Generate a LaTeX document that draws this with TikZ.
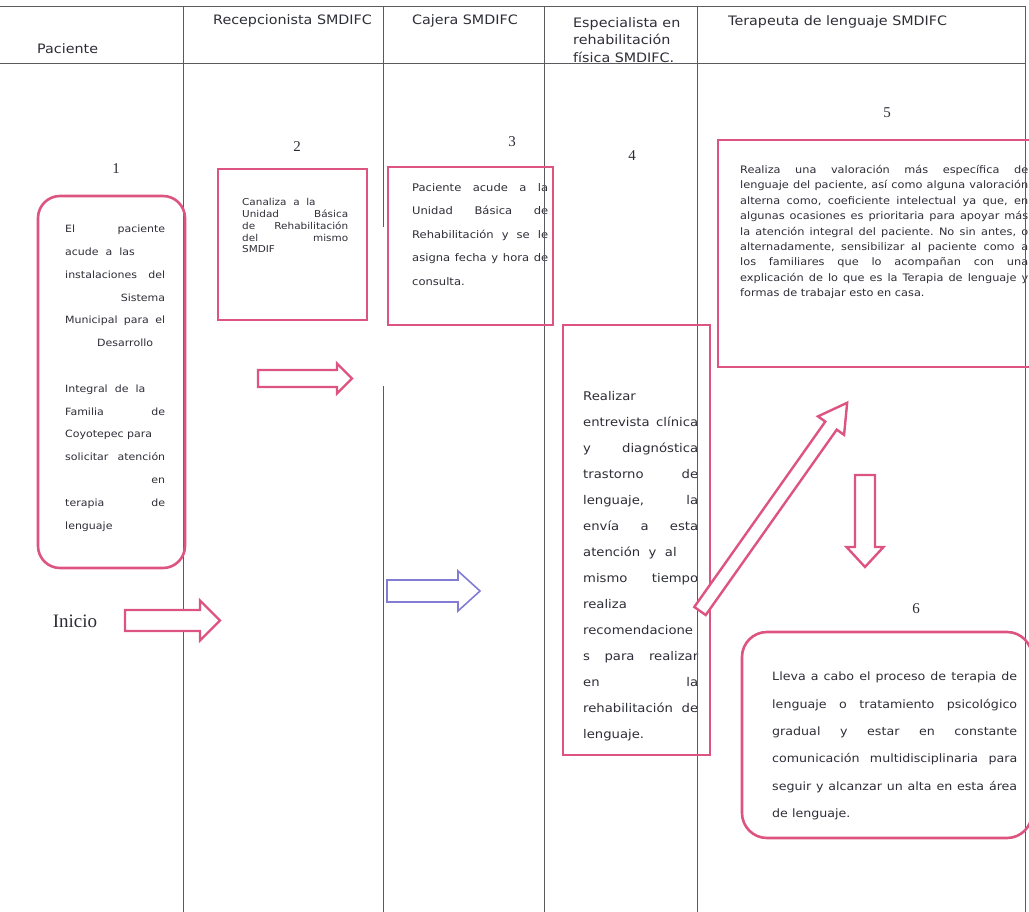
\documentclass[tikz,border=0pt]{standalone}
\usepackage{fontspec}
\setmainfont{Liberation Serif}
\newfontfamily\bodyf[FakeStretch=1.1]{DejaVu Sans}
\definecolor{pinkln}{RGB}{221,84,128}
\definecolor{laneln}{RGB}{90,90,95}
\definecolor{txt}{RGB}{45,45,55}
\definecolor{bluearr}{RGB}{130,125,210}
\frenchspacing
\newcommand\JL[1]{\hbox to\hsize{#1}}
\newcommand\LL[1]{\hbox to\hsize{#1\hfil}}
\newcommand\blockarrow[7]{%
  \begin{scope}[shift={#2},rotate=#3]
    \draw[#1] (0,-#5) -- ({#4-#7},-#5) -- ({#4-#7},-#6) -- (#4,0) -- ({#4-#7},#6) -- ({#4-#7},#5) -- (0,#5) -- cycle;
  \end{scope}}
\tikzset{
  lane/.style={draw=laneln,line width=0.9pt},
  box/.style={draw=pinkln,line width=2.6pt},
  rbox/.style={box,rounded corners=22pt},
  num/.style={font=\fontsize{15}{15}\selectfont,text=txt,inner sep=0},
  hdr/.style={font=\bodyf\fontsize{13}{17.5}\selectfont,text=txt,anchor=base west,inner sep=0},
  btext/.style={anchor=north west,inner sep=0,text=txt},
  arrowline/.style={draw=pinkln,line width=2.4pt,fill=white,line join=miter},
}
\begin{document}
\begin{tikzpicture}[x=1pt,y=-1pt]
\useasboundingbox (0,0) rectangle (1029,912);

% header texts
\node[hdr] (hPac) at (37,54) {Paciente};
\node[hdr] (hRec) at (213,25) {Recepcionista SMDIFC};
\node[hdr] (hCaj) at (412,25) {Cajera SMDIFC};
\node[hdr,anchor=north west] (hEsp) at (573,17) {\vbox{\hsize=120pt \LL{Especialista en}\LL{rehabilitación}\LL{física SMDIFC.}}};
\node[hdr] (hTer) at (728,26) {Terapeuta de lenguaje SMDIFC};

% step numbers
\node[num] (n1) at (116,169) {1};
\node[num] (n2) at (297,147) {2};
\node[num] (n3) at (512,142) {3};
\node[num] (n4) at (632,156) {4};
\node[num] (n5) at (887,113) {5};
\node[num] (n6) at (916,609) {6};
\node[text=txt,font=\fontsize{19}{19}\selectfont,inner sep=0] (inicio) at (75,621) {Inicio};

% box texts
\node[btext] (t1) at (65,225) {\bodyf\fontsize{10}{22.8}\selectfont\vbox{\hsize=100pt
  \JL{El\hfill paciente}
  \LL{acude\ \ a\ \ las}
  \JL{instalaciones del}
  \JL{\hfill Sistema}
  \JL{Municipal para el}
  \LL{\hspace{32pt}Desarrollo}
  \LL{}
  \LL{Integral\ \ de\ \ la}
  \JL{Familia\hfill de}
  \LL{Coyotepec para}
  \JL{solicitar atención}
  \JL{\hfill en}
  \JL{terapia\hfill de}
  \LL{lenguaje}}};

\node[btext] (t2) at (242,198.5) {\bodyf\fontsize{9.5}{11.7}\selectfont\vbox{\hsize=106pt
  \LL{Canaliza\ \ a\ \ la}
  \JL{Unidad\hfill Básica}
  \JL{de\hfill Rehabilitación}
  \JL{del\hfill mismo}
  \LL{SMDIF}}};

\node[btext] (t3) at (412,183) {\bodyf\fontsize{10.5}{23.5}\selectfont\vbox{\hsize=136pt
  \JL{Paciente acude a la}
  \JL{Unidad Básica de}
  \JL{Rehabilitación y se le}
  \JL{asigna fecha y hora de}
  \LL{consulta.}}};

\node[btext] (t4) at (583,391) {\bodyf\fontsize{12}{26}\selectfont\vbox{\hsize=115pt
  \LL{Realizar}
  \JL{entrevista clínica}
  \JL{y\hfill diagnóstica}
  \JL{trastorno\hfill de}
  \JL{lenguaje,\hfill la}
  \JL{envía\hfill a\hfill esta}
  \LL{atención\ \ y\ \ al}
  \JL{mismo\hfill tiempo}
  \LL{realiza}
  \LL{recomendacione}
  \JL{s para realizar}
  \JL{en\hfill la}
  \JL{rehabilitación de}
  \LL{lenguaje.}}};

\node[btext] (t5) at (740,165) {\bodyf\fontsize{10.3}{15.4}\selectfont\vbox{\hsize=288pt
  \JL{Realiza una valoración más específica de}
  \JL{lenguaje del paciente, así como alguna valoración}
  \JL{alterna como, coeficiente intelectual ya que, en}
  \JL{algunas ocasiones es prioritaria para apoyar más}
  \JL{la atención integral del paciente. No sin antes, o}
  \JL{alternadamente, sensibilizar al paciente como a}
  \JL{los familiares que lo acompañan con una}
  \JL{explicación de lo que es la Terapia de lenguaje y}
  \LL{formas de trabajar esto en casa.}}};

\node[btext] (t6) at (772,672) {\bodyf\fontsize{11.5}{27.3}\selectfont\vbox{\hsize=245pt
  \JL{Lleva a cabo el proceso de terapia de}
  \JL{lenguaje o tratamiento psicológico}
  \JL{gradual y estar en constante}
  \JL{comunicación multidisciplinaria para}
  \JL{seguir y alcanzar un alta en esta área}
  \LL{de lenguaje.}}};

% swimlane lines
\coordinate (L0t) at (0,6);
\coordinate (L0m) at (0,63);
\draw[lane] (L0t) -- (1025,6);
\draw[lane] (L0m) -- (1025,63);
\draw[lane] (183,6) -- (183,912);
\draw[lane] (383,6) -- (383,227);
\draw[lane] (383,386) -- (383,912);
\draw[lane] (544,6) -- (544,912);
\draw[lane] (697,6) -- (697,912);
\draw[lane] (1025,6) -- (1025,912);

% boxes
\draw[rbox] (38,196) rectangle (185,568);
\draw[box] (218,169) rectangle (367,320);
\draw[box] (388,167) rectangle (553,325);
\draw[box] (563,325) rectangle (710,755);
\draw[box] (718,140) rectangle (1045,367);
\draw[box,rounded corners=25pt] (742,632) rectangle (1032,838);

% block arrows
\blockarrow{arrowline}{(125,620.5)}{0}{95}{10.5}{20}{20}
\blockarrow{arrowline,draw=bluearr,line width=1.6pt}{(387,591)}{0}{93}{11}{20}{22}
\blockarrow{arrowline}{(258,378.5)}{0}{94}{8.5}{15}{15}
\blockarrow{arrowline}{(700,611)}{54.75}{255}{7}{16}{28}
\blockarrow{arrowline}{(865,475)}{-90}{92}{10}{18.5}{20}
\end{tikzpicture}
\end{document}
